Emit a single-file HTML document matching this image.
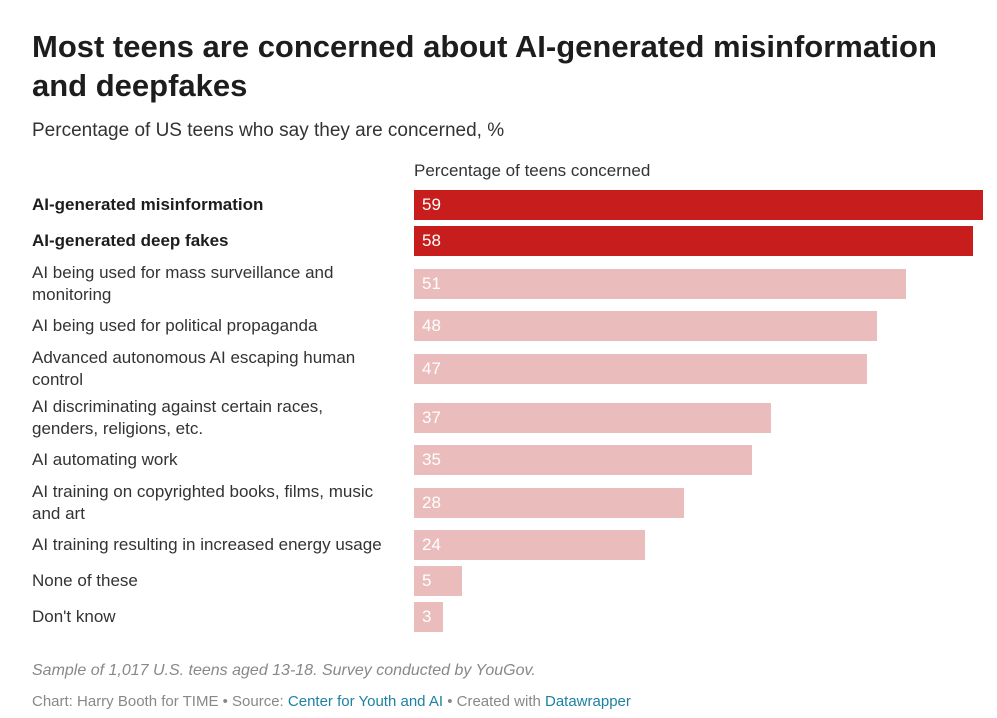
<!DOCTYPE html>
<html><head><meta charset="utf-8"><style>
body{margin:0;width:997px;height:718px;background:#fff;font-family:"Liberation Sans",Arial,sans-serif;color:#333;overflow:hidden;position:relative}
#title{position:absolute;left:32px;top:27px;font-size:31px;font-weight:bold;line-height:39px;color:#1d1d1d;margin:0;width:960px}
#sub{position:absolute;left:32px;top:120px;font-size:19px;color:#333}
#hdr{position:absolute;left:414px;top:161px;font-size:17px;color:#333}
#rows{position:absolute;left:32px;top:190px;width:960px;display:flex;flex-direction:column;gap:6px}
.row{position:relative;display:flex;align-items:center;min-height:30px}
.lab{width:380px;font-size:17px;line-height:21.5px;white-space:pre-line}
.bar{position:absolute;left:382px;height:30px;top:50%;transform:translateY(-50%)}
.val{position:absolute;left:390px;color:#fff;font-size:17px;top:50%;transform:translateY(-50%)}
#note{position:absolute;left:32px;top:662px;font-size:16px;font-style:italic;color:#888}
#credit{position:absolute;left:32px;top:693px;font-size:15px;color:#888}
#credit a{color:#1d81a2;text-decoration:none}
</style></head><body>
<h1 id="title">Most teens are concerned about AI-generated misinformation and deepfakes</h1>
<div id="sub">Percentage of US teens who say they are concerned, %</div>
<div id="hdr">Percentage of teens concerned</div>
<div id="rows"></div>
<div id="note">Sample of 1,017 U.S. teens aged 13-18. Survey conducted by YouGov.</div>
<div id="credit">Chart: Harry Booth for TIME • Source: <a>Center for Youth and AI</a> • Created with <a>Datawrapper</a></div>
<script>
const categories=["AI-generated misinformation","AI-generated deep fakes","AI being used for mass surveillance and\nmonitoring","AI being used for political propaganda","Advanced autonomous AI escaping human\ncontrol","AI discriminating against certain races,\ngenders, religions, etc.","AI automating work","AI training on copyrighted books, films, music\nand art","AI training resulting in increased energy usage","None of these","Don't know"];
const values=[59,58,51,48,47,37,35,28,24,5,3];
const highlighted=[true,true,false,false,false,false,false,false,false,false,false];
const maxVal=59;
const barW=569;
function x(v){return v/maxVal*barW;}
const rows=document.getElementById('rows');
categories.forEach((c,i)=>{
  const r=document.createElement('div');r.className='row';
  
  
  const l=document.createElement('div');l.className='lab';l.textContent=c;
  
  
  if(highlighted[i]){l.style.fontWeight='bold';l.style.color='#1d1d1d';}
  const b=document.createElement('div');b.className='bar';
  
  
  b.style.width=x(values[i])+'px';
  b.style.background=highlighted[i]?'#c71e1d':'#ebbcbc';
  const v=document.createElement('div');v.className='val';v.textContent=values[i];
  
  
  r.appendChild(l);r.appendChild(b);r.appendChild(v);rows.appendChild(r);
});
</script>
</body></html>
